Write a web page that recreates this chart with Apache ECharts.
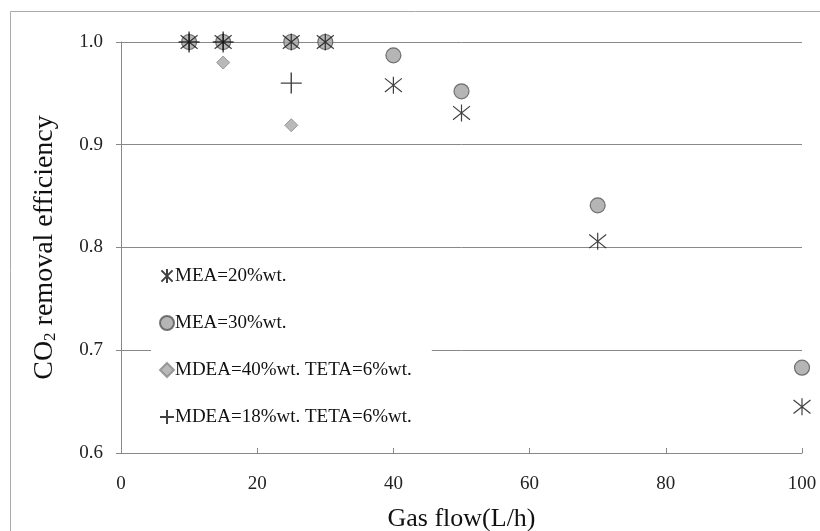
<!DOCTYPE html>
<html><head><meta charset="utf-8">
<script src="https://cdn.jsdelivr.net/npm/echarts@6/dist/echarts.min.js"></script>
<style>html,body{margin:0;padding:0;background:#fff}#c{width:820px;height:531px}</style>
</head><body><div id="c"></div>
<script>
const seriesNames = ['MEA=20%wt.', 'MEA=30%wt.', 'MDEA=40%wt. TETA=6%wt.', 'MDEA=18%wt. TETA=6%wt.'];
const mea20 = [[10,1.0],[15,1.0],[25,1.0],[30,1.0],[40,0.958],[50,0.931],[70,0.806],[100,0.645]];
const mea30 = [[10,1.0],[15,1.0],[25,1.0],[30,1.0],[40,0.987],[50,0.952],[70,0.841],[100,0.683]];
const mdea40 = [[15,0.98],[25,0.919]];
const mdea18 = [[10,1.0],[15,1.0],[25,0.96]];
const xTicks = [0,20,40,60,80,100];
const yTicks = [0.6,0.7,0.8,0.9,1.0];

const FONT = '"Liberation Serif", "Times New Roman", serif';
const asterisk = 'path://M0,-10L0,10M-8,-8L8,8M-8,8L8,-8';
const plus = 'path://M0,-10L0,10M-10,0L10,0';

const chart = echarts.init(document.getElementById('c'));
chart.setOption({
  animation: false,
  backgroundColor: '#fff',
  graphic: [{type:'rect', left:8, top:9, shape:{width:830, height:540}, style:{fill:'none', stroke:'#aaa', lineWidth:1}, z:-10}],
  grid: {left:121, right:18, top:42, bottom:78, containLabel:false, outerBoundsMode:'none'},
  legend: {
    orient:'vertical', left:151, top:260, itemGap:27, itemWidth:14, itemHeight:14,
    backgroundColor:'#fff', padding:[6,20,6,8],
    textStyle:{fontFamily:FONT, fontSize:19, lineHeight:20, color:'#111', padding:[0,0,0,-4]},
    data: seriesNames
  },
  xAxis: {
    type:'value', min:0, max:100, interval:20,
    name:'Gas flow(L/h)', nameLocation:'middle', nameGap:53,
    nameTextStyle:{fontFamily:FONT, fontSize:26, color:'#111'},
    axisLine:{show:true, lineStyle:{color:'#888'}},
    axisTick:{show:true, inside:true, length:5, lineStyle:{color:'#888'}},
    axisLabel:{fontFamily:FONT, fontSize:19, color:'#222', margin:22},
    splitLine:{show:false}
  },
  yAxis: {
    type:'value', min:0.6, max:1.0, interval:0.1,
    name:'{a|CO}{s|2}{a| removal efficiency}', nameLocation:'middle', nameGap:62, nameRotate:90,
    nameTextStyle:{rich:{
      a:{fontFamily:FONT, fontSize:28, color:'#111'},
      s:{fontFamily:FONT, fontSize:17, color:'#111', verticalAlign:'bottom', padding:[10,0,0,0]}
    }},
    axisLine:{show:true, lineStyle:{color:'#888'}},
    axisTick:{show:true, length:5, lineStyle:{color:'#888'}},
    axisLabel:{fontFamily:FONT, fontSize:19, color:'#222', margin:18, formatter:v=>v.toFixed(1)},
    splitLine:{show:true, lineStyle:{color:'#888', width:1}}
  },
  series: [
    {name:seriesNames[0], type:'scatter', data:mea20, symbol:asterisk, symbolSize:17, z:3,
     itemStyle:{color:'rgba(0,0,0,0)', borderColor:'#111', borderWidth:1.2}},
    {name:seriesNames[1], type:'scatter', data:mea30, symbol:'circle', symbolSize:15, z:2,
     itemStyle:{color:'#a3a3a3', borderColor:'#555', borderWidth:1.2}},
    {name:seriesNames[2], type:'scatter', data:mdea40, symbol:'diamond', symbolSize:13, z:2,
     itemStyle:{color:'#a8a8a8', borderColor:'#888', borderWidth:1}},
    {name:seriesNames[3], type:'scatter', data:mdea18, symbol:plus, symbolSize:21, z:4,
     itemStyle:{color:'rgba(0,0,0,0)', borderColor:'#111', borderWidth:1.4}}
  ]
});
</script></body></html>
